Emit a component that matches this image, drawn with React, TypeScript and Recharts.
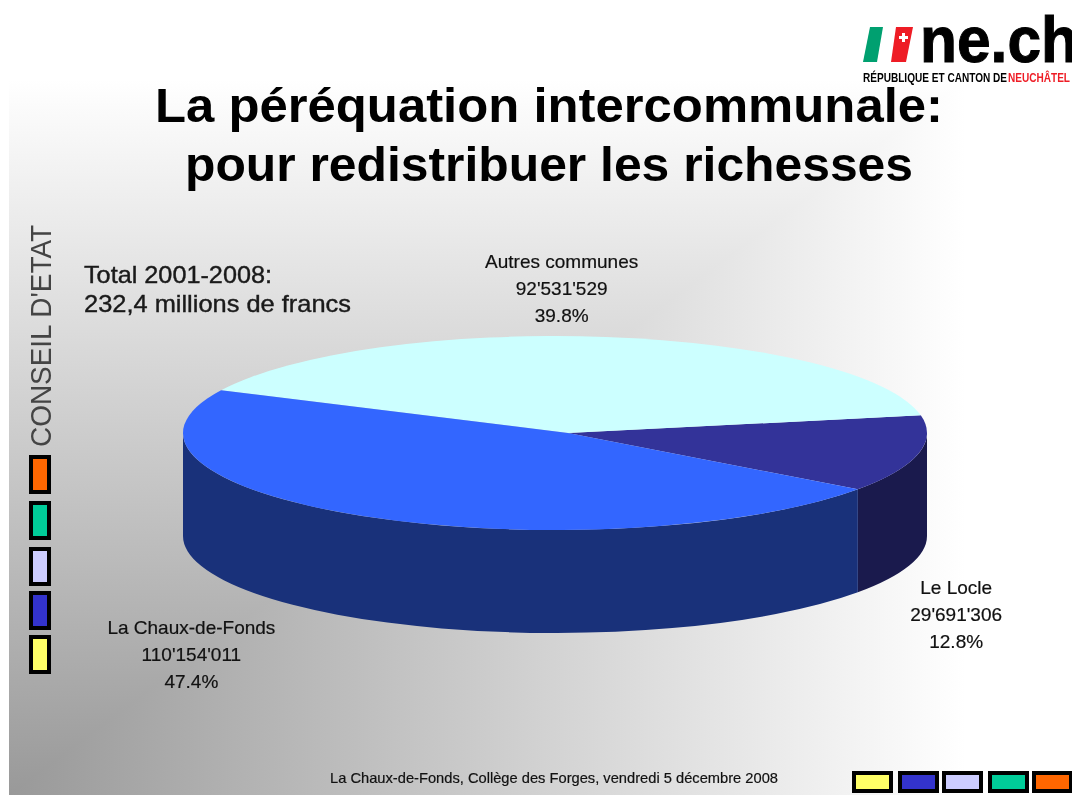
import React from "react";
import { PieChart, Pie } from "recharts";

const W = 1072, H = 798;
const names = ["Le Locle", "Autres communes", "La Chaux-de-Fonds"];
const amounts = [29691306, 92531529, 110154011];
const topColors = ["#333399", "#CCFFFF", "#3366FF"];
const sideColors = ["#1A1A4D", "#668080", "#19317A"];
const swatches = ["#FFFF66", "#3333CC", "#CCCCFF", "#00CC99", "#FF6600"];
const titleLines = ["La péréquation intercommunale:", "pour redistribuer les richesses"];
const totalLines = ["Total 2001-2008:", "232,4 millions de francs"];
const footer = "La Chaux-de-Fonds, Collège des Forges, vendredi 5 décembre 2008";

const tableData = names.map((name, i) => ({ name, value: amounts[i], fill: topColors[i], side: sideColors[i] }));

// Projection of the round pie onto a flattened disc
const FLAT = 97 / 372;
const DEPTH = 103;
const APEX_SHIFT = 13;
const FONT = "'Liberation Sans', Arial, sans-serif";
const LABEL_SHIFT = [
  { dx: 38, dy: 140 },
  { dx: -44, dy: -69 },
  { dx: -173, dy: 118 },
];

const pt = (cx: number, cy: number, rx: number, ry: number, deg: number) => {
  const t = (deg * Math.PI) / 180;
  return [cx + rx * Math.cos(t), cy - ry * Math.sin(t)];
};

const overlap = (a: number, b: number, c: number, d: number) => {
  const s = Math.max(a, c), e = Math.min(b, d);
  return e > s ? [s, e] : null;
};

function Slice3D(props: any) {
  const { cx, cy, outerRadius, startAngle, endAngle, fill, side } = props;
  const rx = outerRadius, ry = outerRadius * FLAT;
  const s = Math.min(startAngle, endAngle), e = Math.max(startAngle, endAngle);
  const [x0, y0] = pt(cx, cy, rx, ry, s);
  const [x1, y1] = pt(cx, cy, rx, ry, e);
  const large = e - s > 180 ? 1 : 0;
  const top = `M${cx + APEX_SHIFT},${cy}L${x0},${y0}A${rx},${ry} 0 ${large} 0 ${x1},${y1}Z`;
  const fronts = [overlap(s, e, 180, 360), overlap(s, e, -180, 0)].filter(Boolean) as number[][];
  return (
    <g>
      {fronts.map(([a, b], i) => {
        const [ax, ay] = pt(cx, cy, rx, ry, a);
        const [bx, by] = pt(cx, cy, rx, ry, b);
        const d = `M${ax},${ay}A${rx},${ry} 0 0 0 ${bx},${by}L${bx},${by + DEPTH}A${rx},${ry} 0 0 1 ${ax},${ay + DEPTH}Z`;
        return <path key={i} d={d} fill={side} />;
      })}
      <path d={top} fill={fill} />
    </g>
  );
}

function SliceLabel(props: any) {
  const { cx, cy, outerRadius, midAngle, index, name, value, percent } = props;
  const [ax, ay] = pt(cx, cy, outerRadius, outerRadius * FLAT, midAngle);
  const { dx, dy } = LABEL_SHIFT[index];
  const x = ax + dx, y = ay + dy;
  const lines = [name, String(value).replace(/\B(?=(\d{3})+$)/g, "'"), `${(percent * 100).toFixed(1)}%`];
  return (
    <text x={x} y={y} textAnchor="middle" fontFamily={FONT} fontSize={19} fill="#111" stroke="#111" strokeWidth={0.2}>
      {lines.map((l, i) => (
        <tspan key={i} x={x} y={y + i * 27}>{l}</tspan>
      ))}
    </text>
  );
}

const sideBoxes = [637, 593, 549, 503, 457];
const bottomBoxes = [854, 900, 944, 990, 1034];

export default function App() {
  return (
    <div style={{ position: "absolute", left: 0, top: 0, width: W, height: H, overflow: "hidden", background: "#fff", filter: "blur(0.5px)" }}>
      <svg width={W} height={H} style={{ position: "absolute", left: 0, top: 0 }}>
        <defs>
          <linearGradient id="bgX" gradientUnits="userSpaceOnUse" x1={9} y1={0} x2={W} y2={0}>
            <stop offset="0" stopColor="#999999" />
            <stop offset="0.9" stopColor="#ffffff" />
          </linearGradient>
          <linearGradient id="bgY" gradientUnits="userSpaceOnUse" x1={0} y1={795} x2={0} y2={0}>
            <stop offset="0" stopColor="#999999" />
            <stop offset="0.9" stopColor="#ffffff" />
          </linearGradient>
        </defs>
        <rect x={9} y={0} width={W - 9} height={795} fill="url(#bgX)" />
        <polygon points={`9,795 ${W},0 9,0`} fill="url(#bgY)" />
      </svg>
      <div style={{ position: "absolute", left: 0, top: 0 }}>
        <PieChart width={W} height={H} margin={{ top: 0, right: 0, bottom: 0, left: 0 }}>
          <Pie
            data={tableData}
            dataKey="value"
            nameKey="name"
            cx={555}
            cy={433}
            innerRadius={0}
            outerRadius={372}
            startAngle={-35.5}
            endAngle={324.5}
            stroke="none"
            isAnimationActive={false}
            shape={Slice3D}
            inactiveShape={Slice3D}
            label={SliceLabel}
            labelLine={false}
          />
        </PieChart>
      </div>
      <svg width={W} height={H} style={{ position: "absolute", left: 0, top: 0, pointerEvents: "none" }}>
        <text x={549} y={122} textAnchor="middle" fontFamily={FONT} fontWeight="bold" fontSize={49} fill="#000" textLength={788} lengthAdjust="spacingAndGlyphs">{titleLines[0]}</text>
        <text x={549} y={181} textAnchor="middle" fontFamily={FONT} fontWeight="bold" fontSize={49} fill="#000" textLength={728} lengthAdjust="spacingAndGlyphs">{titleLines[1]}</text>
        <text x={84} y={283} fontFamily={FONT} fontSize={24} fill="#1a1a1a" stroke="#1a1a1a" strokeWidth={0.4} textLength={188} lengthAdjust="spacingAndGlyphs">{totalLines[0]}</text>
        <text x={84} y={312} fontFamily={FONT} fontSize={24} fill="#1a1a1a" stroke="#1a1a1a" strokeWidth={0.4} textLength={267} lengthAdjust="spacingAndGlyphs">{totalLines[1]}</text>
        <text transform="translate(51,447) rotate(-90)" fontFamily={FONT} fontSize={30} fill="#444" textLength={222} lengthAdjust="spacingAndGlyphs">CONSEIL D'ETAT</text>
        {sideBoxes.map((y, i) => (
          <rect key={i} x={31} y={y} width={18} height={35} fill={swatches[i]} stroke="#000" strokeWidth={4} />
        ))}
        {bottomBoxes.map((x, i) => (
          <rect key={i} x={x} y={773} width={37} height={18} fill={swatches[i]} stroke="#000" strokeWidth={4} />
        ))}
        <text x={554} y={783} textAnchor="middle" fontFamily={FONT} fontSize={15} fill="#111" stroke="#111" strokeWidth={0.2} textLength={448} lengthAdjust="spacingAndGlyphs">{footer}</text>
        <polygon points="870,27 883,27 877,62 863,62" fill="#00A070" />
        <polygon points="896,27 913,27 906,62 891,62" fill="#EE1C25" />
        <path d="M902,33h3v3h3v3h-3v3h-3v-3h-3v-3h3z" fill="#fff" />
        <text x={920} y={62} fontFamily={FONT} fontWeight="bold" fontSize={65} fill="#000" stroke="#000" strokeWidth={1} textLength={158} lengthAdjust="spacingAndGlyphs">ne.ch</text>
        <text x={863} y={82} fontFamily={FONT} fontWeight="bold" fontSize={13} fill="#000" textLength={144} lengthAdjust="spacingAndGlyphs">RÉPUBLIQUE ET CANTON DE</text>
        <text x={1008} y={82} fontFamily={FONT} fontWeight="bold" fontSize={13} fill="#EE1C25" textLength={62} lengthAdjust="spacingAndGlyphs">NEUCHÂTEL</text>
      </svg>
    </div>
  );
}
